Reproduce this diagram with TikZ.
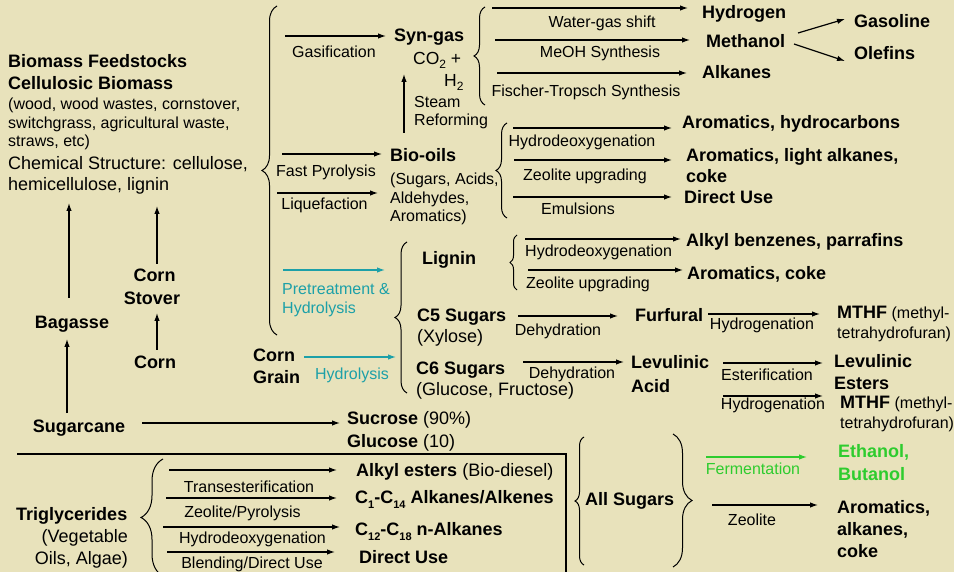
\documentclass[tikz,border=0pt]{standalone}
\usepackage{fontspec}
\setmainfont{Liberation Sans}
\usetikzlibrary{arrows.meta,decorations.pathreplacing}
\definecolor{bgc}{RGB}{232,226,187}
\definecolor{tealc}{RGB}{28,160,168}
\definecolor{greenc}{RGB}{46,204,46}
\newcommand{\sbx}[1]{\raisebox{-0.28em}{\fontsize{11}{11}\selectfont #1}}
\newcommand{\sbc}[1]{\raisebox{-0.22em}{\fontsize{12}{12}\selectfont #1}}
\tikzset{
  B/.style={font=\fontsize{18}{21}\selectfont\bfseries, inner sep=0pt, anchor=base west},
  N/.style={font=\fontsize{16}{19}\selectfont, inner sep=0pt, anchor=base west},
  M/.style={font=\fontsize{18}{21}\selectfont, inner sep=0pt, anchor=base west},
  lab/.style={font=\fontsize{16}{19}\selectfont, inner sep=0pt, anchor=base},
  arr/.style={line width=1.2pt, -{Latex[length=8pt,width=5.5pt]}},
  brc/.style={line width=1pt, decorate, decoration={brace, amplitude=#1}},
}
\begin{document}
\begin{tikzpicture}[x=1pt,y=-1pt]
\useasboundingbox (0,0) rectangle (954,572);
\clip (0,0) rectangle (954,572);
\fill[bgc] (0,0) rectangle (954,572);

% ---------- left block ----------
\node[B] (bf) at (8,68) {Biomass Feedstocks};
\node[B] (cb) at (8,90) {Cellulosic Biomass};
\node[N] (w1) at (8,110) {(wood, wood wastes, cornstover,};
\node[N] (w2) at (8,129) {switchgrass, agricultural waste,};
\node[N] (w3) at (8,147) {straws, etc)};
\node[M] (cs1) at (8,170) {Chemical Structure: cellulose,};
\node[M] (cs2) at (8,191) {hemicellulose, lignin};

\node[B,anchor=base] (bag) at (72,329) {Bagasse};
\node[B,anchor=base] (sug) at (79,432) {Sugarcane};
\node[B,anchor=base] (cst1) at (154.5,282) {Corn};
\node[B,anchor=base] (cst2) at (152,305) {Stover};
\node[B,anchor=base] (corn) at (155,368) {Corn};
\node[B] (cg1) at (253,362) {Corn};
\node[B] (cg2) at (253,384) {Grain};

\coordinate (bagA) at (69,298); \coordinate (bagB) at (69,203);
\coordinate (sugA) at (67,413); \coordinate (sugB) at (67,339);
\coordinate (cornA) at (157,350); \coordinate (cornB) at (157,313);
\coordinate (stA) at (157,264); \coordinate (stB) at (157,206);
\coordinate (scA) at (142,423); \coordinate (scB) at (340,423);
\draw[arr] (bagA) -- (bagB);
\draw[arr] (sugA) -- (sugB);
\draw[arr] (cornA) -- (cornB);
\draw[arr] (stA) -- (stB);
\draw[arr] (scA) -- (scB);

% big brace
\coordinate (bbA) at (277,335); \coordinate (bbB) at (277,6);
\draw[brc=15pt] (bbA) -- (bbB);

% ---------- syn-gas ----------
\coordinate (gaA) at (285,36); \coordinate (gaB) at (386,36);
\draw[arr] (gaA) -- (gaB);
\node[lab] (gal) at (334,58) {Gasification};
\node[B] (syn) at (394,42) {Syn-gas};
\node[font=\fontsize{17.5}{20}\selectfont, inner sep=0pt, anchor=base west] (co2) at (413,65) {CO\sbc{2} +};
\node[font=\fontsize{17.5}{20}\selectfont, inner sep=0pt, anchor=base west] (h2) at (444,87) {H\sbc{2}};
\node[N] (st1) at (414,108) {Steam};
\node[N] (st2) at (414,126) {Reforming};
\coordinate (srA) at (404,133); \coordinate (srB) at (404,74);
\draw[arr] (srA) -- (srB);

\coordinate (sbA) at (485,105); \coordinate (sbB) at (485,7);
\draw[brc=11pt] (sbA) -- (sbB);
\coordinate (s1A) at (492,8); \coordinate (s1B) at (688,8);
\coordinate (s2A) at (495,40); \coordinate (s2B) at (690,40);
\coordinate (s3A) at (497,73); \coordinate (s3B) at (687,73);
\draw[arr] (s1A) -- (s1B);
\draw[arr] (s2A) -- (s2B);
\draw[arr] (s3A) -- (s3B);
\node[lab] (wgs) at (602,28) {Water-gas shift};
\node[lab] (meo) at (600,58) {MeOH Synthesis};
\node[lab] (fts) at (586,97) {Fischer-Tropsch Synthesis};
\node[B] (hyd) at (702,19) {Hydrogen};
\node[B] (met) at (706,48) {Methanol};
\node[B] (alk) at (702,79) {Alkanes};
\node[B] (gas) at (854,28) {Gasoline};
\node[B] (ole) at (854,60) {Olefins};
\coordinate (m1A) at (798,33); \coordinate (m1B) at (845,19);
\coordinate (m2A) at (794,44); \coordinate (m2B) at (845,61);
\draw[arr] (m1A) -- (m1B);
\draw[arr] (m2A) -- (m2B);

% ---------- bio-oils ----------
\coordinate (fpA) at (282,154); \coordinate (fpB) at (382,154);
\coordinate (lqA) at (277,193); \coordinate (lqB) at (378,193);
\draw[arr] (fpA) -- (fpB);
\draw[arr] (lqA) -- (lqB);
\node[lab] (fpl) at (326,177) {Fast Pyrolysis};
\node[lab] (lql) at (324.5,210) {Liquefaction};
\node[B] (bio) at (390,162) {Bio-oils};
\node[N] (bo1) at (390,185) {(Sugars, Acids,};
\node[N] (bo2) at (390,204) {Aldehydes,};
\node[N] (bo3) at (390,222) {Aromatics)};

\coordinate (bobA) at (507,218); \coordinate (bobB) at (507,123);
\draw[brc=11pt] (bobA) -- (bobB);
\coordinate (b1A) at (513,128); \coordinate (b1B) at (672,128);
\coordinate (b2A) at (514,160); \coordinate (b2B) at (672,160);
\coordinate (b3A) at (513,197); \coordinate (b3B) at (672,197);
\draw[arr] (b1A) -- (b1B);
\draw[arr] (b2A) -- (b2B);
\draw[arr] (b3A) -- (b3B);
\node[lab] (hdo1) at (582,147) {Hydrodeoxygenation};
\node[lab] (zeo1) at (585,181) {Zeolite upgrading};
\node[lab] (emu) at (578,215) {Emulsions};
\node[B] (arh) at (682,129) {Aromatics, hydrocarbons};
\node[B] (arl1) at (686,162) {Aromatics, light alkanes,};
\node[B] (arl2) at (686,183) {coke};
\node[B] (du1) at (684,204) {Direct Use};

% ---------- pretreatment / lignin ----------
\coordinate (ptA) at (283,270); \coordinate (ptB) at (385,270);
\draw[arr,tealc] (ptA) -- (ptB);
\node[N,text=tealc] (pt1) at (282,295) {Pretreatment \&};
\node[N,text=tealc] (pt2) at (282,313) {Hydrolysis};
\coordinate (hyA) at (304,357); \coordinate (hyB) at (396,357);
\draw[arr,tealc] (hyA) -- (hyB);
\node[lab,text=tealc] (hyl) at (352,379) {Hydrolysis};

\coordinate (lbA) at (407,393); \coordinate (lbB) at (407,242);
\draw[brc=12pt] (lbA) -- (lbB);
\node[B] (lig) at (422,265) {Lignin};
\node[B] (c5) at (417,322) {C5 Sugars};
\node[M] (xyl) at (417,343) {(Xylose)};
\node[B] (c6) at (416,374) {C6 Sugars};
\node[M] (glu) at (416,395) {(Glucose, Fructose)};

\coordinate (lsA) at (517,290); \coordinate (lsB) at (517,235);
\draw[brc=7pt] (lsA) -- (lsB);
\coordinate (l1A) at (525,239); \coordinate (l1B) at (681,239);
\coordinate (l2A) at (528,270); \coordinate (l2B) at (683,270);
\draw[arr] (l1A) -- (l1B);
\draw[arr] (l2A) -- (l2B);
\node[N] (hdo2) at (525,257) {Hydrodeoxygenation};
\node[N] (zeo2) at (526,289) {Zeolite upgrading};
\node[B] (akb) at (686,247) {Alkyl benzenes, parrafins};
\node[B] (arc) at (687,280) {Aromatics, coke};

\coordinate (d1A) at (518,316); \coordinate (d1B) at (618,316);
\coordinate (d2A) at (523,362); \coordinate (d2B) at (624,362);
\draw[arr] (d1A) -- (d1B);
\draw[arr] (d2A) -- (d2B);
\node[lab] (dh1) at (558,335) {Dehydration};
\node[lab] (dh2) at (572,378) {Dehydration};
\node[B] (fur) at (635,322) {Furfural};
\coordinate (h1A) at (708,314); \coordinate (h1B) at (820,314);
\draw[arr] (h1A) -- (h1B);
\node[lab] (hg1) at (762,330) {Hydrogenation};
\node[N] (mt1) at (837,319) {{\fontsize{18}{21}\selectfont\bfseries MTHF} (methyl-};
\node[N] (mt1b) at (837,338) {tetrahydrofuran)};

\node[B] (lev1) at (631,369) {Levulinic};
\node[B] (lev2) at (631,392) {Acid};
\coordinate (e1A) at (723,363); \coordinate (e1B) at (823,363);
\draw[arr] (e1A) -- (e1B);
\node[lab] (est) at (767,380) {Esterification};
\node[B] (le1) at (834,367) {Levulinic};
\node[B] (le2) at (834,389) {Esters};
\coordinate (h2A) at (723,396); \coordinate (h2B) at (823,396);
\draw[arr] (h2A) -- (h2B);
\node[lab] (hg2) at (773,409) {Hydrogenation};
\node[N] (mt2) at (840,408) {{\fontsize{18}{21}\selectfont\bfseries MTHF} (methyl-};
\node[N] (mt2b) at (840,428) {tetrahydrofuran)};

% ---------- sucrose ----------
\node[M] (suc) at (347,424) {\textbf{Sucrose} (90\%)};
\node[M] (glc) at (347,447) {\textbf{Glucose} (10)};

% ---------- triglycerides ----------
\coordinate (lnA) at (17,454); \coordinate (lnB) at (566,454); \coordinate (lnC) at (566,576);
\draw[line width=1.2pt] (lnA) -- (lnB) -- (lnC);

\node[B] (tri) at (16,520) {Triglycerides};
\node[M,anchor=base east] (veg) at (128,542) {(Vegetable};
\node[M,anchor=base east] (oil) at (128,564) {Oils, Algae)};
\coordinate (tbA) at (163,576); \coordinate (tbB) at (163,459);
\draw[brc=22pt] (tbA) -- (tbB);
\coordinate (t1A) at (169,470); \coordinate (t1B) at (337,470);
\coordinate (t2A) at (166,498); \coordinate (t2B) at (337,498);
\coordinate (t3A) at (163,527); \coordinate (t3B) at (340,527);
\coordinate (t4A) at (167,552); \coordinate (t4B) at (335,552);
\draw[arr] (t1A) -- (t1B);
\draw[arr] (t2A) -- (t2B);
\draw[arr] (t3A) -- (t3B);
\draw[arr] (t4A) -- (t4B);
\node[lab] (tes) at (249,492) {Transesterification};
\node[lab] (zpy) at (242.5,517) {Zeolite/Pyrolysis};
\node[lab] (hdo3) at (252.5,543) {Hydrodeoxygenation};
\node[lab] (bdu) at (252,568) {Blending/Direct Use};
\node[M] (ake) at (356,476) {\textbf{Alkyl esters} (Bio-diesel)};
\node[B] (c114) at (355,503) {C\sbx{1}-C\sbx{14} Alkanes/Alkenes};
\node[B] (c1218) at (355,535) {C\sbx{12}-C\sbx{18} n-Alkanes};
\node[B] (du2) at (359,563) {Direct Use};

% ---------- all sugars ----------
\coordinate (asA) at (584,565); \coordinate (asB) at (584,437);
\draw[brc=9pt] (asA) -- (asB);
\node[B] (als) at (585,505) {All Sugars};
\coordinate (arA) at (673,434); \coordinate (arB) at (673,567);
\draw[brc=19pt] (arA) -- (arB);
\coordinate (fA) at (706,457); \coordinate (fB) at (807,457);
\draw[arr,greenc] (fA) -- (fB);
\node[lab,text=greenc] (fer) at (753,474) {Fermentation};
\node[B,text=greenc] (eth) at (838,457) {Ethanol,};
\node[B,text=greenc] (but) at (838,480) {Butanol};
\coordinate (zA) at (712,505); \coordinate (zB) at (818,505);
\draw[arr] (zA) -- (zB);
\node[lab] (zl) at (752,525) {Zeolite};
\node[B] (ar1) at (837,513) {Aromatics,};
\node[B] (ar2) at (837,535) {alkanes,};
\node[B] (ar3) at (837,557) {coke};
\end{tikzpicture}
\end{document}
